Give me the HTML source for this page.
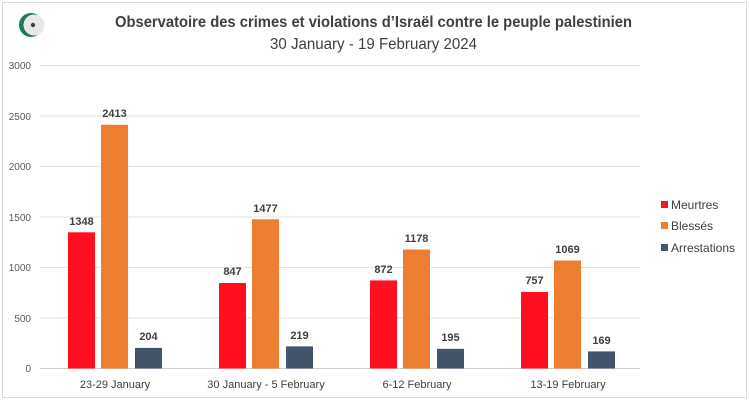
<!DOCTYPE html>
<html><head><meta charset="utf-8"><style>
body{margin:0;background:#fff}
svg{display:block;font-family:"Liberation Sans",Arial,sans-serif}
</style></head><body>
<svg width="749" height="400" viewBox="0 0 749 400">
<rect x="2.5" y="2.5" width="744" height="395" fill="#fff" stroke="#d9d9d9"/>
<circle cx="31" cy="25" r="12" fill="#1a7a5a"/>
<circle cx="34" cy="25" r="10.5" fill="#e8e8e8"/>
<circle cx="33" cy="25" r="2.2" fill="#444"/>
<text x="115" y="27" font-size="16" font-weight="bold" fill="#404040" textLength="517" lengthAdjust="spacingAndGlyphs">Observatoire des crimes et violations d’Israël contre le peuple palestinien</text>
<text x="270" y="49" font-size="15.5" fill="#404040" textLength="207" lengthAdjust="spacingAndGlyphs">30 January - 19 February 2024</text>
<g stroke="#e3e3e3" stroke-width="1">
<line x1="40" x2="640" y1="65.5" y2="65.5"/><line x1="40" x2="640" y1="116" y2="116"/>
<line x1="40" x2="640" y1="166.5" y2="166.5"/><line x1="40" x2="640" y1="217" y2="217"/>
<line x1="40" x2="640" y1="267.5" y2="267.5"/><line x1="40" x2="640" y1="318" y2="318"/>
</g>
<line x1="40" x2="640" y1="368.5" y2="368.5" stroke="#d0d0d0"/>
<g font-size="10" fill="#595959" text-anchor="end">
<text x="31" y="69">3000</text><text x="31" y="120">2500</text><text x="31" y="170">2000</text>
<text x="31" y="221">1500</text><text x="31" y="271">1000</text><text x="31" y="322">500</text><text x="31" y="372">0</text>
</g>
<g>
<rect x="68" y="232.3" width="27" height="136.2" fill="#ff0f1f"/>
<rect x="101" y="124.8" width="27" height="243.7" fill="#ed7d31"/>
<rect x="135" y="347.9" width="27" height="20.6" fill="#44546a"/>
<rect x="219" y="283" width="27" height="85.5" fill="#ff0f1f"/>
<rect x="252" y="219.3" width="27" height="149.2" fill="#ed7d31"/>
<rect x="286" y="346.4" width="27" height="22.1" fill="#44546a"/>
<rect x="370" y="280.4" width="27" height="88.1" fill="#ff0f1f"/>
<rect x="403" y="249.5" width="27" height="119" fill="#ed7d31"/>
<rect x="437" y="348.8" width="27" height="19.7" fill="#44546a"/>
<rect x="521" y="292" width="27" height="76.5" fill="#ff0f1f"/>
<rect x="554" y="260.5" width="27" height="108" fill="#ed7d31"/>
<rect x="588" y="351.4" width="27" height="17.1" fill="#44546a"/>
</g>
<g font-size="11" font-weight="bold" fill="#404040" text-anchor="middle">
<text x="81.5" y="225">1348</text><text x="114.5" y="117">2413</text><text x="148.5" y="340">204</text>
<text x="232.5" y="275">847</text><text x="265.5" y="212">1477</text><text x="299.5" y="339">219</text>
<text x="383.5" y="273">872</text><text x="416.5" y="242">1178</text><text x="450.5" y="341">195</text>
<text x="534.5" y="284">757</text><text x="567.5" y="253">1069</text><text x="601.5" y="344">169</text>
</g>
<g font-size="11" fill="#404040" text-anchor="middle">
<text x="115" y="388">23-29 January</text><text x="266" y="388">30 January - 5 February</text>
<text x="417" y="388">6-12 February</text><text x="568" y="388">13-19 February</text>
</g>
<rect x="661" y="201" width="7" height="7" fill="#ff0f1f"/>
<rect x="661" y="222" width="7" height="7" fill="#ed7d31"/>
<rect x="661" y="244" width="7" height="7" fill="#44546a"/>
<g font-size="12" fill="#404040">
<text x="671" y="209">Meurtres</text><text x="671" y="230">Blessés</text><text x="671" y="252">Arrestations</text>
</g>
</svg>
</body></html>
